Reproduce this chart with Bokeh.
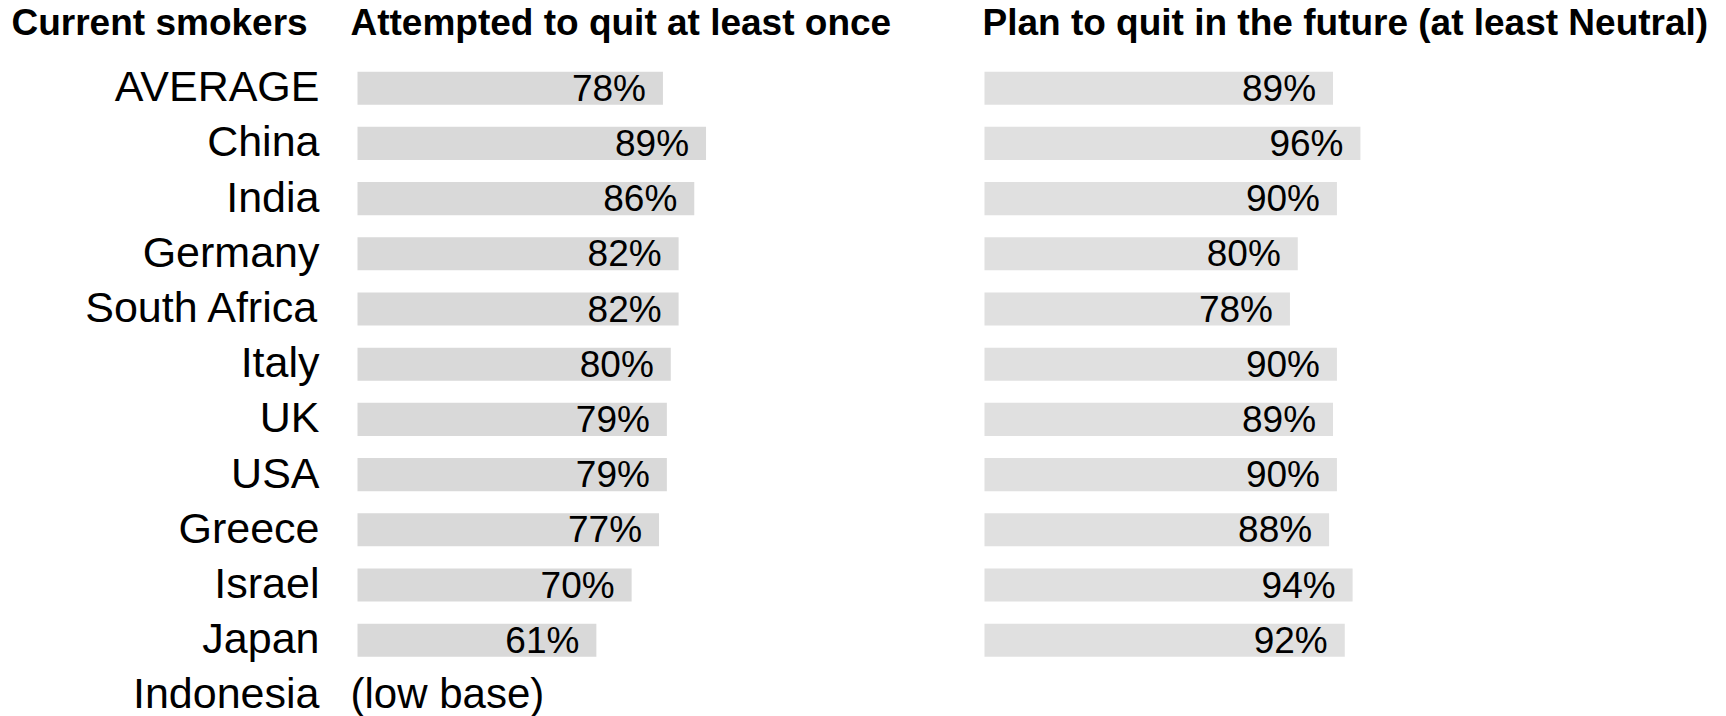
from bokeh.plotting import figure
from bokeh.models import Range1d
from bokeh.layouts import row
from bokeh.embed import file_html
from bokeh.resources import INLINE
from bokeh.core.properties import value

countries = ["AVERAGE", "China", "India", "Germany", "South Africa", "Italy",
             "UK", "USA", "Greece", "Israel", "Japan", "Indonesia"]
attempted = [78, 89, 86, 82, 82, 80, 79, 79, 77, 70, 61]
plan_to_quit = [89, 96, 90, 80, 78, 90, 89, 90, 88, 94, 92]
low_base_note = "(low base)"
title_left = "Current smokers"
title_mid = "Attempted to quit at least once"
title_right = "Plan to quit in the future (at least Neutral)"

FONT = "Liberation Sans"
PX_PER_PCT = 3.916
H = 716
ROW_PX = 55.2
FIRST_CENTER = 87.7


def make_fig(width, bar_start_px, vals, color):
    p = figure(width=width, height=H, output_backend="svg", toolbar_location=None,
               x_range=Range1d(-bar_start_px / PX_PER_PCT, (width - bar_start_px) / PX_PER_PCT),
               y_range=Range1d((H - FIRST_CENTER) / ROW_PX, -FIRST_CENTER / ROW_PX),
               min_border=0)
    p.outline_line_color = None
    p.grid.visible = False
    p.axis.visible = False
    p.background_fill_color = "white"
    p.border_fill_color = "white"
    ys = list(range(len(vals)))
    p.hbar(y=ys, left=0, right=vals, height=0.6, fill_color=color, line_color=None)
    p.text(x=vals, y=ys, text=[f"{v}%" for v in vals], x_offset=-17,
           text_align="right", text_baseline="middle",
           text_font=value(FONT), text_font_size="37px", text_color="black")
    return p


def add_title(p, text, x_off):
    p.text(x=[0], y=[-1], text=[text], x_offset=x_off, y_offset=-11,
           text_align="left", text_baseline="middle",
           text_font=value(FONT), text_font_size="37px", text_font_style="bold",
           text_color="black")


W1 = 930
B1 = 357
B2 = 54
p1 = make_fig(W1, B1, attempted, "#d9d9d9")
p2 = make_fig(1726 - W1, B2, plan_to_quit, "#e0e0e0")

# country names
p1.text(x=[0] * len(countries), y=list(range(len(countries))), text=countries,
        x_offset=-38, y_offset=-2, text_align="right", text_baseline="middle",
        text_font=value(FONT), text_font_size="43px", text_color="black")

# Indonesia note
p1.text(x=[0], y=[len(countries) - 1], text=[low_base_note], x_offset=-7, y_offset=-2,
        text_align="left", text_baseline="middle",
        text_font=value(FONT), text_font_size="42px", text_color="black")

add_title(p1, title_left, 11 - B1)
add_title(p1, title_mid, 350 - B1)
add_title(p2, title_right, 982 - (W1 + B2))

layout = row(p1, p2, spacing=0)
open("out.html", "w").write(file_html(layout, INLINE))
